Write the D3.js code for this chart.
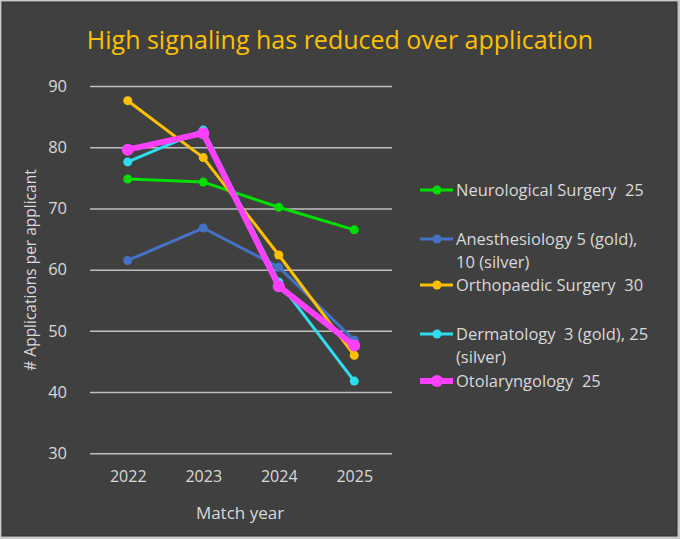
<!DOCTYPE html>
<html>
<head>
<meta charset="utf-8">
<script src="https://cdn.jsdelivr.net/npm/d3@7"></script>
<style>
  body { margin: 0; background: #c8c8c8; }
  svg { display: block; }
  text { white-space: pre; }
</style>
</head>
<body>
<div id="chart"></div>
<script>
const width = 680;
const height = 539;

// data
const years = ["2022", "2023", "2024", "2025"];
const yTicks = [30, 40, 50, 60, 70, 80, 90];
const seriesNames = [
  ["Neurological Surgery  25"],
  ["Anesthesiology 5 (gold),", "10 (silver)"],
  ["Orthopaedic Surgery  30"],
  ["Dermatology  3 (gold), 25", "(silver)"],
  ["Otolaryngology  25"]
];
const neuro = [74.8, 74.3, 70.2, 66.5];
const anesth = [61.5, 66.8, 60.4, 48.5];
const ortho = [87.6, 78.3, 62.4, 46.0];
const derm = [77.6, 82.8, 58.0, 41.8];
const oto = [79.6, 82.3, 57.3, 47.6];
const seriesValues = [neuro, anesth, ortho, derm, oto];
const seriesColors = ["#00dd00", "#4472c4", "#ffc000", "#2fdcf0", "#ff40ff"];
const seriesWidths = [3, 3, 3, 3, 6];
const seriesRadius = [4.5, 4.5, 4.5, 4.5, 6];

const font = "'Open Sans', sans-serif";
const textColor = "#d9d9d9";

const svg = d3.select("#chart").append("svg")
    .attr("width", width)
    .attr("height", height)
    .style("font-family", font);

// frame
svg.append("rect")
    .attr("x", 0).attr("y", 0)
    .attr("width", width).attr("height", height)
    .attr("fill", "#c8c8c8");
svg.append("rect")
    .attr("x", 2).attr("y", 2)
    .attr("width", width - 5).attr("height", height - 5)
    .attr("fill", "#404040")
    .attr("stroke", "#2e2e2e")
    .attr("stroke-width", 1);

const plot = { left: 90, right: 392, top: 86, bottom: 453.3 };

const x = d3.scalePoint()
    .domain(years)
    .range([plot.left, plot.right])
    .padding(0.5);

const y = d3.scaleLinear()
    .domain([30, 90])
    .range([plot.bottom, plot.top]);

// title
svg.append("text")
    .attr("x", 340)
    .attr("y", 49)
    .attr("text-anchor", "middle")
    .attr("fill", "#ffc000")
    .style("font-size", "25px")
    .text("High signaling has reduced over application");

// gridlines + y labels
const yAxis = svg.append("g")
    .attr("transform", `translate(${plot.left},0)`)
    .call(d3.axisLeft(y).tickValues(yTicks).tickSize(-(plot.right - plot.left)).tickPadding(23));
yAxis.select(".domain").remove();
yAxis.selectAll(".tick line").attr("stroke", "#bfbfbf").attr("stroke-width", 1.5);
yAxis.selectAll(".tick text")
    .attr("fill", textColor)
    .style("font-family", font)
    .style("font-size", "16.5px");

// x labels
const xAxis = svg.append("g")
    .attr("transform", `translate(0,${plot.bottom})`)
    .call(d3.axisBottom(x).tickSize(0).tickPadding(17));
xAxis.select(".domain").remove();
xAxis.selectAll(".tick text")
    .attr("fill", textColor)
    .style("font-family", font)
    .style("font-size", "16px");

// axis titles
svg.append("text")
    .attr("x", 240)
    .attr("y", 519)
    .attr("text-anchor", "middle")
    .attr("fill", textColor)
    .style("font-size", "17px")
    .text("Match year");

svg.append("text")
    .attr("transform", "translate(36,270) rotate(-90)")
    .attr("text-anchor", "middle")
    .attr("fill", textColor)
    .style("font-size", "15.5px")
    .text("# Applications per applicant");

// series
const line = d3.line()
    .x((d, i) => x(years[i]))
    .y(d => y(d));

seriesValues.forEach((vals, s) => {
    const g = svg.append("g");
    g.append("path")
        .attr("d", line(vals))
        .attr("fill", "none")
        .attr("stroke", seriesColors[s])
        .attr("stroke-width", seriesWidths[s])
        .attr("stroke-linejoin", "round");
    g.selectAll("circle")
        .data(vals)
        .join("circle")
        .attr("cx", (d, i) => x(years[i]))
        .attr("cy", d => y(d))
        .attr("r", seriesRadius[s])
        .attr("fill", seriesColors[s]);
});

// legend
const legendY = [190, 239, 285, 334, 381];
const legend = svg.append("g");
seriesNames.forEach((lines, s) => {
    const g = legend.append("g").attr("transform", `translate(0,${legendY[s]})`);
    g.append("line")
        .attr("x1", 420).attr("x2", 453)
        .attr("y1", 0).attr("y2", 0)
        .attr("stroke", seriesColors[s])
        .attr("stroke-width", seriesWidths[s]);
    g.append("circle")
        .attr("cx", 437).attr("cy", 0)
        .attr("r", seriesRadius[s])
        .attr("fill", seriesColors[s]);
    lines.forEach((t, k) => {
        g.append("text")
            .attr("x", 456)
            .attr("y", k * 23)
            .attr("dy", "0.35em")
            .attr("fill", textColor)
            .style("font-size", "16.5px")
            .text(t);
    });
});
</script>
</body>
</html>
